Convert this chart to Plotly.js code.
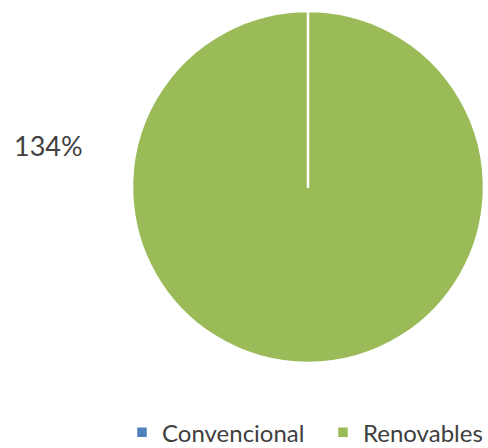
<!DOCTYPE html>
<html>
<head>
<meta charset="utf-8">
<script src="https://cdn.plot.ly/plotly-3.0.1.min.js"></script>
<style>html,body{margin:0;padding:0;background:#fff;}#chart{width:488px;height:448px;}</style>
</head>
<body>
<div id="chart"></div>
<script>
var categories = ["Convencional", "Renovables"];
var values = [0.0001, 100];
var colors = ["#4F81BD", "#9BBB59"];
var labelTexts = ["134%"];

var data = [{
  type: "pie",
  labels: categories,
  values: values,
  sort: false,
  direction: "clockwise",
  rotation: 0,
  textinfo: "none",
  hoverinfo: "label+percent",
  marker: {colors: colors, line: {color: "#ffffff", width: 2.5}},
  domain: {x: [132/488, 484/488], y: [1 - 363/448, 1 - 11/448]}
}];

var layout = {
  width: 488, height: 448,
  margin: {l: 0, r: 0, t: 0, b: 0, autoexpand: false},
  paper_bgcolor: "#ffffff",
  font: {family: "Lato, 'Open Sans', sans-serif", color: "#404040"},
  showlegend: true,
  legend: {
    orientation: "h",
    x: 122/488, xanchor: "left",
    y: -0.016, yanchor: "bottom",
    font: {size: 24, color: "#404040"},
    itemwidth: 30,
    entrywidth: 156,
    entrywidthmode: "pixels"
  },
  annotations: [{
    text: labelTexts[0],
    xref: "paper", yref: "paper",
    x: 12/488, xanchor: "left",
    y: 1 - 145/448, yanchor: "middle",
    showarrow: false,
    font: {size: 27, color: "#404040"}
  }]
};

Plotly.newPlot("chart", data, layout, {displayModeBar: false, staticPlot: true});
</script>
</body>
</html>
